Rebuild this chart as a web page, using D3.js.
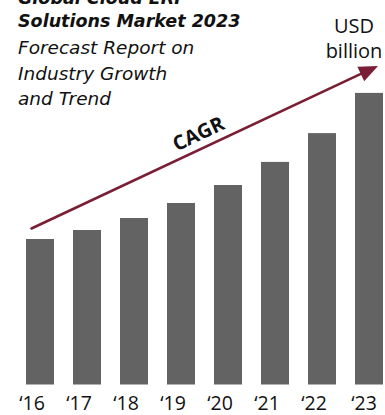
<!DOCTYPE html>
<html>
<head>
<meta charset="utf-8">
<script src="https://cdn.jsdelivr.net/npm/d3@7/dist/d3.min.js"></script>
<style>
  html, body { margin: 0; padding: 0; background: #fff; }
  svg { display: block; }
</style>
</head>
<body>
<svg id="chart" width="385" height="415"></svg>
<script>
// Market size by year (USD billion, indicative)
const years = ["2016", "2017", "2018", "2019", "2020", "2021", "2022", "2023"];
const tickLabels = ["\u201816", "\u201817", "\u201818", "\u201819", "\u201820", "\u201821", "\u201822", "\u201823"];
const marketSize = [48.5, 51.5, 55.5, 60.5, 66.5, 74.2, 83.8, 97.2];
const titleLines = ["Global Cloud ERP", "Solutions Market 2023"];
const subtitleLines = ["Forecast Report on", "Industry Growth", "and Trend"];
const unitLines = ["USD", "billion"];

const barColor = "#636363";
const arrowColor = "#7a1e35";

const svg = d3.select("#chart");

const x = d3.scaleBand()
  .domain(years)
  .range([16.5, 392.5])
  .paddingInner(0.404)
  .paddingOuter(0.202);

const y = d3.scaleLinear()
  .domain([0, 100])
  .range([384.5, 84.5]);

// Bars
svg.append("g")
  .selectAll("rect")
  .data(years)
  .join("rect")
  .attr("x", d => x(d))
  .attr("y", (d, i) => y(marketSize[i]))
  .attr("width", x.bandwidth())
  .attr("height", (d, i) => y(0) - y(marketSize[i]))
  .attr("fill", barColor);

// Year axis (labels only, set a little left of each bar's centre)
const xAxis = d3.axisBottom(x)
  .tickSize(0)
  .tickPadding(0)
  .tickFormat((d, i) => tickLabels[i]);

const axisG = svg.append("g")
  .attr("transform", `translate(0, ${y(0)})`)
  .call(xAxis);
axisG.select(".domain").remove();
axisG.selectAll("text")
  .attr("dy", 0)
  .attr("y", 25)
  .attr("dx", (d, i) => i === years.length - 1 ? -5 : -8)
  .attr("fill", "#111")
  .style("font-family", "'Open Sans', sans-serif")
  .style("font-size", "19.5px");

// CAGR growth arrow
const x0 = x(years[0]) + 5.5, y0 = y(marketSize[0]) - 10.5;
const x1 = x(years[years.length - 1]) + x.bandwidth() - 5, y1 = y(d3.max(marketSize)) - 27;
const ang = Math.atan2(y1 - y0, x1 - x0);
const headLen = 19, headHalf = 8;
const bx = x1 - headLen * Math.cos(ang), by = y1 - headLen * Math.sin(ang);
const nx = -Math.sin(ang), ny = Math.cos(ang);

svg.append("line")
  .attr("x1", x0).attr("y1", y0)
  .attr("x2", bx + 3 * Math.cos(ang)).attr("y2", by + 3 * Math.sin(ang))
  .attr("stroke", arrowColor)
  .attr("stroke-width", 2.6)
  .attr("stroke-linecap", "round");

svg.append("path")
  .attr("d", d3.line()([
    [x1, y1],
    [bx + nx * headHalf, by + ny * headHalf],
    [bx - nx * headHalf, by - ny * headHalf]
  ]) + "Z")
  .attr("fill", arrowColor);

// CAGR label along the arrow
const t = 0.5;
const cx = x0 + (x1 - x0) * t, cy = y0 + (y1 - y0) * t;
svg.append("text")
  .attr("transform", `translate(${cx - nx * 8}, ${cy - ny * 8}) rotate(${ang * 180 / Math.PI})`)
  .attr("text-anchor", "middle")
  .attr("fill", "#111")
  .style("font-family", "'Open Sans', sans-serif")
  .style("font-weight", 700)
  .style("font-size", "20px")
  .text("CAGR");

// Title block
const titleG = svg.append("g")
  .style("font-family", "'DejaVu Sans', sans-serif")
  .style("font-style", "italic")
  .attr("fill", "#111");

titleG.selectAll("text.title")
  .data(titleLines)
  .join("text")
  .attr("class", "title")
  .attr("x", 18)
  .attr("y", (d, i) => 4 + i * 22.5)
  .style("font-weight", 700)
  .style("font-size", "17.5px")
  .text(d => d);

titleG.selectAll("text.sub")
  .data(subtitleLines)
  .join("text")
  .attr("class", "sub")
  .attr("x", 18)
  .attr("y", (d, i) => 54 + i * 25.5)
  .style("font-weight", 400)
  .style("font-size", "18.5px")
  .text(d => d);

// Unit label
svg.append("g")
  .selectAll("text")
  .data(unitLines)
  .join("text")
  .attr("x", 354)
  .attr("y", (d, i) => 33 + i * 24.5)
  .attr("text-anchor", "middle")
  .attr("fill", "#111")
  .style("font-family", "'Open Sans', sans-serif")
  .style("font-size", "20px")
  .text(d => d);
</script>
</body>
</html>
